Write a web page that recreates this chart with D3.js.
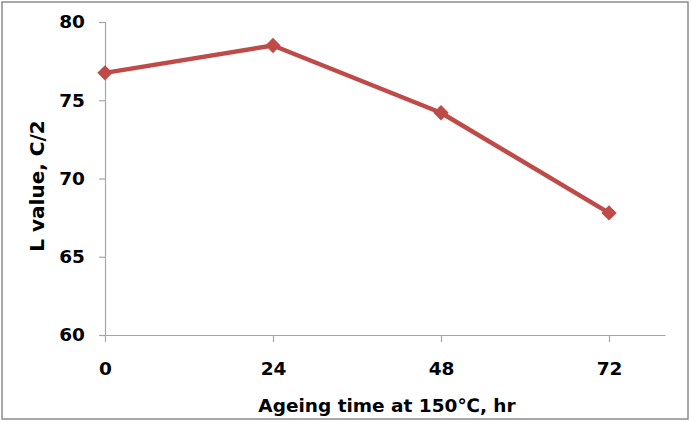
<!DOCTYPE html>
<html><head><meta charset="utf-8">
<script src="https://cdn.jsdelivr.net/npm/d3@7"></script>
<style>body{margin:0;background:#fff}svg{display:block}text{font-family:"DejaVu Sans",Verdana,sans-serif;font-weight:bold;fill:#000}</style>
</head><body><svg id="c" width="691" height="422"></svg>
<script>
const hours = [0, 24, 48, 72];
const lValues = [76.75, 78.5, 74.2, 67.8];
const yTicks = [60, 65, 70, 75, 80];
const xTicks = [0, 24, 48, 72];

const svg = d3.select("#c");
svg.append("rect").attr("x",2).attr("y",2).attr("width",686).attr("height",417)
  .attr("fill","#fff").attr("stroke","#8c8c8c").attr("stroke-width",1.5);

const x = d3.scaleLinear().domain([0,80]).range([105,665]);
const y = d3.scaleLinear().domain([60,80]).range([335,22]);

const yAxis = svg.append("g").attr("transform","translate(105,0)")
  .call(d3.axisLeft(y).tickValues(yTicks).tickSize(6).tickPadding(14).tickSizeOuter(6));
yAxis.selectAll("text").style("font-size","18.5px");
const xAxis = svg.append("g").attr("transform","translate(0,335)")
  .call(d3.axisBottom(x).tickValues(xTicks).tickSize(7).tickPadding(20).tickSizeOuter(0));
xAxis.selectAll("text").style("font-size","18.5px");
svg.selectAll(".domain, .tick line").attr("stroke","#a6a6a6").attr("stroke-width",1.2);

const data = hours.map((h,i)=>({h, v:lValues[i]}));
svg.append("path").datum(data)
  .attr("fill","none").attr("stroke","#BE4B48").attr("stroke-width",4.5)
  .attr("stroke-linejoin","round")
  .attr("d", d3.line().x(d=>x(d.h)).y(d=>y(d.v)));
svg.selectAll(".pt").data(data).enter().append("path")
  .attr("transform", d=>`translate(${x(d.h)},${y(d.v)})`)
  .attr("d", d3.symbol(d3.symbolDiamond2, 150)())
  .attr("fill","#BE4B48");

svg.append("text").attr("x",387).attr("y",412).attr("text-anchor","middle")
  .style("font-size","18.5px").text("Ageing time at 150℃, hr");
svg.append("text").attr("transform","translate(44,186) rotate(-90)").attr("text-anchor","middle")
  .style("font-size","20px").text("L value, C/2");
</script></body></html>
